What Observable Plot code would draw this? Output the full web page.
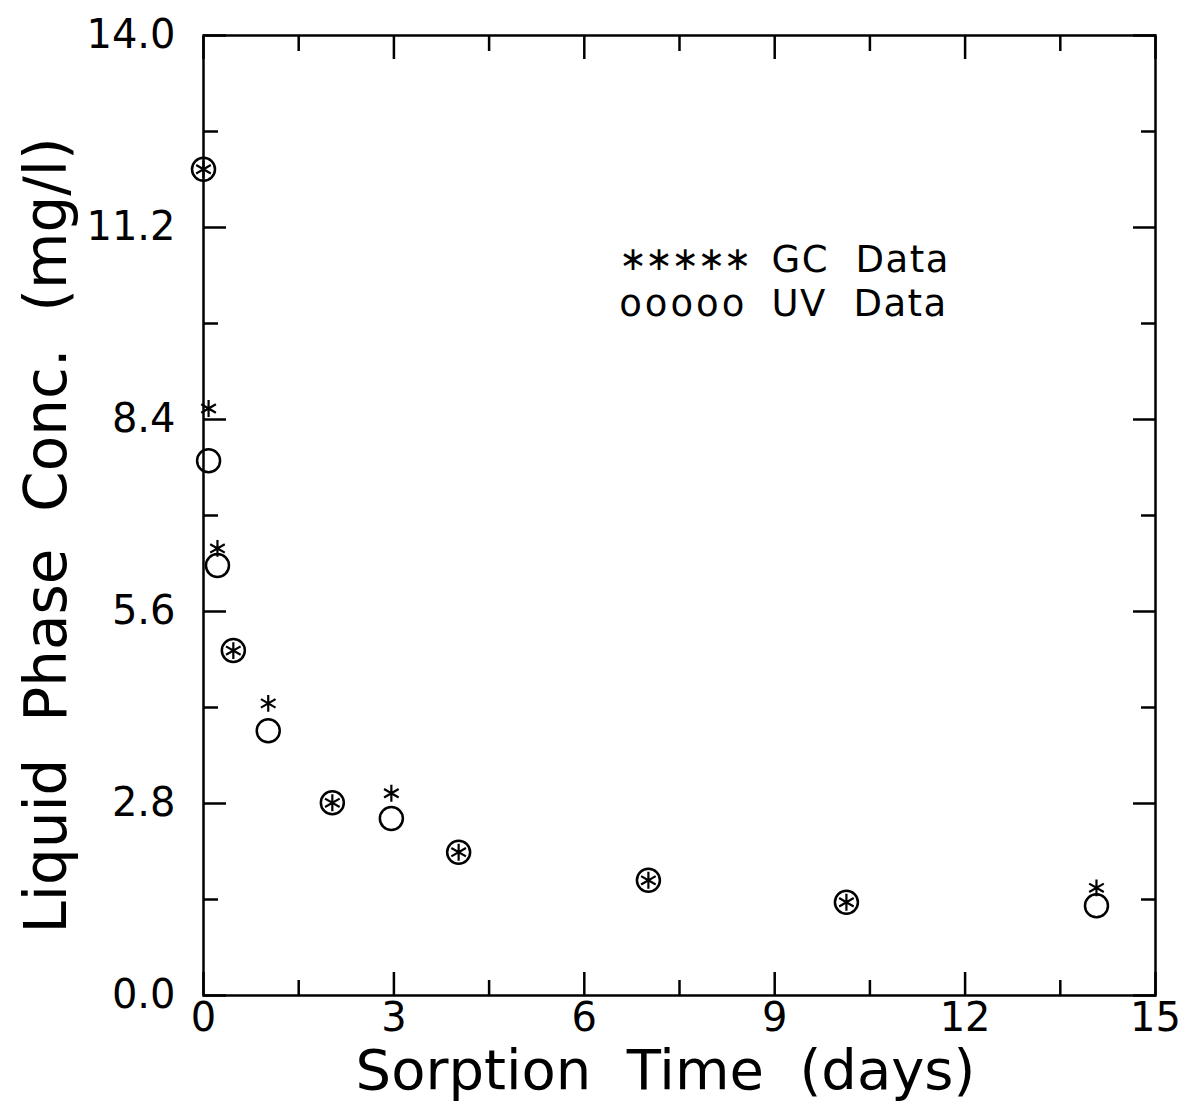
<!DOCTYPE html>
<html>
<head>
<meta charset="utf-8">
<script src="https://cdn.jsdelivr.net/npm/d3@7"></script>
<script src="https://cdn.jsdelivr.net/npm/@observablehq/plot@0.6"></script>
<style>
  body { margin: 0; background: #fff; }
  #chart svg { display: block; }
</style>
</head>
<body>
<div id="chart"></div>
<script>
// Sorption time (days)
const days = [0, 0.08, 0.22, 0.47, 1.02, 2.03, 2.96, 4.02, 7.01, 10.13, 14.07];
// GC data (mg/l)
const gcConc = [12.05, 8.56, 6.52, 5.03, 4.26, 2.81, 2.95, 2.09, 1.68, 1.36, 1.57];
// UV data (mg/l)
const uvConc = [12.05, 7.80, 6.27, 5.03, 3.86, 2.81, 2.58, 2.09, 1.68, 1.36, 1.31];

const xMajor = [0, 3, 6, 9, 12, 15];
const xMinor = [1.5, 4.5, 7.5, 10.5, 13.5];
const yMajor = [0, 2.8, 5.6, 8.4, 11.2, 14.0];
const yMinor = [1.4, 4.2, 7.0, 9.8, 12.6];

const legendSymbols = ["\u2217\u2217\u2217\u2217\u2217", "ooooo"];
const legendLabels = ["GC  Data", "UV  Data"];
const legendY = [10.73, 10.08];

const xTitle = "Sorption  Time  (days)";
const yTitle = "Liquid  Phase  Conc.  (mg/l)";

const gc = days.map((d, i) => ({x: d, y: gcConc[i]}));
const uv = days.map((d, i) => ({x: d, y: uvConc[i]}));
const legend = legendSymbols.map((s, i) => ({sym: s, lab: legendLabels[i], y: legendY[i]}));

const font = "DejaVu Sans";

const chart = Plot.plot({
  width: 1185,
  height: 1109,
  marginLeft: 203,
  marginRight: 30,
  marginTop: 35,
  marginBottom: 114,
  style: {fontFamily: font, background: "#fff", color: "#000"},
  x: {domain: [0, 15]},
  y: {domain: [0, 14]},
  marks: [
    Plot.frame({stroke: "#000", strokeWidth: 2.5}),
    // inward ticks, all four sides
    Plot.axisX(xMajor, {anchor: "bottom", tickSize: -23, strokeWidth: 2.5, fill: "none", label: null}),
    Plot.axisX(xMinor, {anchor: "bottom", tickSize: -15, strokeWidth: 2.5, fill: "none", label: null}),
    Plot.axisX(xMajor, {anchor: "top", tickSize: -23, strokeWidth: 2.5, fill: "none", label: null}),
    Plot.axisX(xMinor, {anchor: "top", tickSize: -15, strokeWidth: 2.5, fill: "none", label: null}),
    Plot.axisY(yMajor, {anchor: "left", tickSize: -23, strokeWidth: 2.5, fill: "none", label: null}),
    Plot.axisY(yMinor, {anchor: "left", tickSize: -15, strokeWidth: 2.5, fill: "none", label: null}),
    Plot.axisY(yMajor, {anchor: "right", tickSize: -23, strokeWidth: 2.5, fill: "none", label: null}),
    Plot.axisY(yMinor, {anchor: "right", tickSize: -15, strokeWidth: 2.5, fill: "none", label: null}),
    // tick labels
    Plot.axisX(xMajor, {anchor: "bottom", tickSize: 0, tickPadding: 7, fontSize: 40, tickFormat: d => String(d), label: null}),
    Plot.axisY(yMajor, {anchor: "left", tickSize: 0, tickPadding: 28, fontSize: 40, tickFormat: d => d.toFixed(1), label: null}),
    // titles
    Plot.text([xTitle], {frameAnchor: "bottom", dx: -14, dy: 76, fontSize: 56, textAnchor: "middle", lineAnchor: "middle", text: d => d, fill: "#000"}),
    Plot.text([yTitle], {frameAnchor: "left", dx: -156, dy: 20, rotate: -90, fontSize: 58, textAnchor: "middle", lineAnchor: "middle", text: d => d, fill: "#000"}),
    // data
    Plot.dot(uv, {x: "x", y: "y", r: 11.5, stroke: "#000", strokeWidth: 2.5, fill: "none"}),
    Plot.dot(gc, {x: "x", y: "y", r: 8, symbol: "asterisk", stroke: "#000", strokeWidth: 2.2}),
    // legend
    Plot.text(legend, {x: 6.55, y: "y", text: "sym", textAnchor: "start", lineAnchor: "middle", fontSize: 37, fill: "#000"}),
    Plot.text(legend, {x: 8.95, y: "y", text: "lab", textAnchor: "start", lineAnchor: "middle", fontSize: 37, fill: "#000"})
  ]
});
// legend symbol spacing
d3.select(chart).selectAll("text").each(function() {
  const t = this.textContent;
  if (t === legendSymbols[0]) {
    d3.select(this).attr("font-size", 33).attr("letter-spacing", -1.5);
  } else if (t === legendSymbols[1]) {
    d3.select(this).attr("letter-spacing", 3);
  } else if (legendLabels.includes(t)) {
    d3.select(this).attr("letter-spacing", 1.5);
  }
});
document.getElementById("chart").appendChild(chart);
</script>
</body>
</html>
